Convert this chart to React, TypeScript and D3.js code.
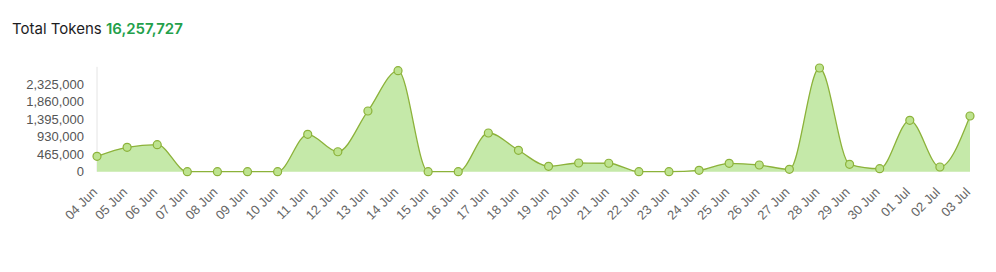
import React from "react";
import * as d3 from "d3";

const dates = ["04 Jun","05 Jun","06 Jun","07 Jun","08 Jun","09 Jun","10 Jun","11 Jun","12 Jun","13 Jun","14 Jun","15 Jun","16 Jun","17 Jun","18 Jun","19 Jun","20 Jun","21 Jun","22 Jun","23 Jun","24 Jun","25 Jun","26 Jun","27 Jun","28 Jun","29 Jun","30 Jun","01 Jul","02 Jul","03 Jul"];
const tokens = [410000,649000,718000,0,0,0,0,995000,530000,1615000,2687000,0,0,1029000,569000,144000,231000,225000,0,0,37000,223000,178000,64000,2758000,197000,80000,1367000,125000,1482000];
const yTicks = [0,465000,930000,1395000,1860000,2325000];
const totalLabel = "16,257,727";

export default function App() {
  const width = 996, height = 272;
  const left = 97, right = 970, zeroY = 171.7, topY = 66.8;
  const x = d3.scalePoint<string>().domain(dates).range([left, right]);
  const y = d3.scaleLinear().domain([0, 2790000]).range([zeroY, topY]);
  const line = d3.line<number>().x((_, i) => x(dates[i])!).y(d => y(d)).curve(d3.curveMonotoneX);
  const area = d3.area<number>().x((_, i) => x(dates[i])!).y0(y(0)).y1(d => y(d)).curve(d3.curveMonotoneX);
  const fmt = d3.format(",");
  const font = "'Liberation Sans', Arial, Helvetica, sans-serif";
  return (
    <svg width={width} height={height} style={{ position: "absolute", left: 0, top: 0, background: "#fff" }} fontFamily={font}>
      <text x={12} y={33.5} fontSize={15} fill="#1d1d1f" fontFamily="Inter, 'Noto Sans', sans-serif">
        Total Tokens <tspan fill="#23a04a" fontWeight={600}>{totalLabel}</tspan>
      </text>
      <line x1={left} x2={left} y1={topY} y2={zeroY} stroke="#e4e4e4" strokeWidth={1} />
      {yTicks.map(t => (
        <text key={t} x={84} y={y(t)} dy="0.35em" textAnchor="end" fontSize={13} fill="#555">{fmt(t)}</text>
      ))}
      <path d={area(tokens)!} fill="#c5e9a9" />
      <path d={line(tokens)!} fill="none" stroke="#8cb23a" strokeWidth={1.3} />
      {tokens.map((v, i) => (
        <circle key={i} cx={x(dates[i])} cy={y(v)} r={4} fill="#bde38f" stroke="#8cb23a" strokeWidth={1.2} />
      ))}
      {dates.map(d => (
        <text key={d} transform={`translate(${x(d)! + 1},${193}) rotate(-45)`} textAnchor="end" fontSize={13} fill="#666">{d}</text>
      ))}
    </svg>
  );
}
